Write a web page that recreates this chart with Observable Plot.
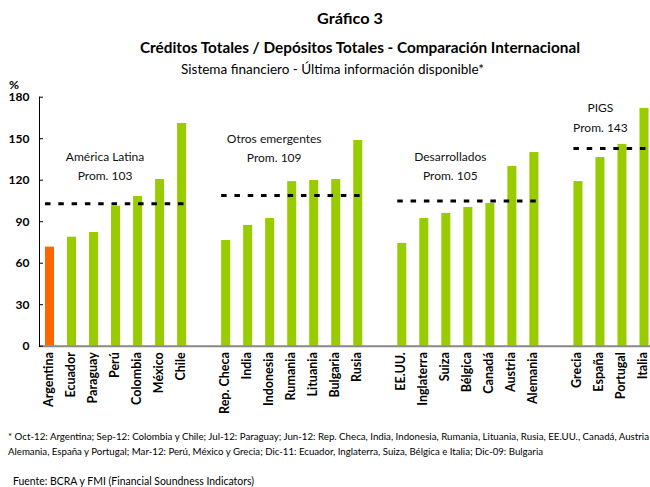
<!DOCTYPE html>
<html>
<head>
<meta charset="utf-8">
<script src="https://cdn.jsdelivr.net/npm/d3@7"></script>
<script src="https://cdn.jsdelivr.net/npm/@observablehq/plot@0.6"></script>
<style>
  html, body { margin: 0; padding: 0; background: white; }
  #chart { position: relative; width: 650px; height: 487px; overflow: hidden; font-family: Lato, "Open Sans", sans-serif; color: #000; }
  .t { position: absolute; white-space: nowrap; line-height: 1; transform-origin: 0 50%; z-index: 2; }
  #plot { position: absolute; left: 0; top: 80px; z-index: 1; }
</style>
</head>
<body>
<div id="chart">
  <div id="plot"></div>
  <div class="t" data-x="317" data-y="18" data-w="66" style="font-size:15px;font-weight:bold">Gráfico 3</div>
  <div class="t" data-x="140" data-y="47" data-w="440" style="font-size:15px;font-weight:bold">Créditos Totales / Depósitos Totales - Comparación Internacional</div>
  <div class="t" data-x="181" data-y="70" data-w="303" style="font-size:12.5px">Sistema financiero - Última información disponible*</div>
  <div class="t" data-x="9" data-y="84" data-w="10" style="font-size:11px;font-weight:bold">%</div>
  <div class="t" data-x="8" data-y="436" data-w="641" style="font-size:10px">* Oct-12: Argentina; Sep-12:  Colombia y Chile; Jul-12: Paraguay; Jun-12: Rep. Checa, India, Indonesia, Rumania, Lituania, Rusia, EE.UU., Canadá, Austria</div>
  <div class="t" data-x="8" data-y="451" data-w="535" style="font-size:10px">Alemania, España y Portugal; Mar-12: Perú, México y Grecia; Dic-11: Ecuador, Inglaterra, Suiza, Bélgica e Italia; Dic-09: Bulgaria</div>
  <div class="t" data-x="13" data-y="481" data-w="241" style="font-size:10.5px">Fuente: BCRA y FMI (Financial Soundness Indicators)</div>
</div>
<script>
// ---- data ----
const groups = ["América Latina", "Otros emergentes", "Desarrollados", "PIGS"];
const groupAverages = [103, 109, 105, 143];
const groupCategories = [
  ["Argentina", "Ecuador", "Paraguay", "Perú", "Colombia", "México", "Chile"],
  ["Rep. Checa", "India", "Indonesia", "Rumania", "Lituania", "Bulgaria", "Rusia"],
  ["EE.UU.", "Inglaterra", "Suiza", "Bélgica", "Canadá", "Austria", "Alemania"],
  ["Grecia", "España", "Portugal", "Italia"]
];
const groupValues = [
  [71.6, 78.8, 82.2, 101.2, 108.2, 120.5, 161.0],
  [76.4, 87.3, 92.3, 119.0, 119.8, 120.5, 148.7],
  [74.3, 92.3, 96.0, 100.3, 103.2, 130.0, 140.0],
  [119.0, 136.4, 145.9, 171.9]
];
const highlightCountry = "Argentina";
const yTicks = [0, 30, 60, 90, 120, 150, 180];

// annotation placement (label anchors)
const labelAnchor = ["Perú", "Indonesia", "Suiza", "España"];
const labelDx = [-11, 4, 4, 0];
const labelY = [[137, 122.7], [150, 135.7], [137, 122.7], [171.9, 157.5]];

// ---- build tables ----
const domain = [];
const rows = [];
groups.forEach((g, i) => {
  if (i) domain.push(" ".repeat(i));
  groupCategories[i].forEach((c, j) => {
    domain.push(c);
    rows.push({category: c, value: groupValues[i][j], color: c === highlightCountry ? "#ff6600" : "#99cc00"});
  });
});
const avgRows = groups.map((g, i) => ({
  group: g,
  first: groupCategories[i][0],
  last: groupCategories[i][groupCategories[i].length - 1],
  avg: groupAverages[i]
}));
const labelRows = [];
groups.forEach((g, i) => {
  labelRows.push({x: labelAnchor[i], y: labelY[i][0], text: g, dx: labelDx[i]});
  labelRows.push({x: labelAnchor[i], y: labelY[i][1], text: "Prom. " + groupAverages[i], dx: labelDx[i]});
});

const chart = Plot.plot({
  width: 650,
  height: 340,
  marginTop: 16.7,
  marginBottom: 74.3,
  marginLeft: 39,
  marginRight: 0,
  style: {fontFamily: "Lato, 'Open Sans', sans-serif", background: "white", color: "black"},
  x: {domain, range: [38.5, 655], round: false, paddingInner: 0.59, paddingOuter: 0.295, align: 0.5},
  y: {domain: [0, 180]},
  color: {type: "identity"},
  marks: [
    Plot.barY(rows, {x: "category", y: "value", fill: "color"}),
    Plot.ruleY(avgRows, {x1: "first", x2: "last", y: "avg", stroke: "black", strokeWidth: 3, strokeDasharray: "5.5,7.8"}),
    ...labelRows.map(d => Plot.text([d], {x: "x", y: "y", text: "text", dx: d.dx, fontSize: 12, fill: "#111"})),
    Plot.ruleY([0], {stroke: "#888", strokeWidth: 2}),
    Plot.frame({anchor: "left", stroke: "black", strokeWidth: 1}),
    Plot.axisY({ticks: yTicks, tickSize: -4, tickPadding: 14, fontSize: 12, fontWeight: "bold", label: null, stroke: "black"}),
    Plot.axisX({tickRotate: -90, tickSize: 0, tickPadding: 6, dx: -1, fontSize: 12.5, fontWeight: "bold", label: null, tickFormat: d => d.trim()})
  ]
});
document.getElementById("plot").appendChild(chart);

// position & fit html texts
document.querySelectorAll(".t").forEach(el => {
  const x = +el.dataset.x, y = +el.dataset.y, w = +el.dataset.w;
  const r = el.getBoundingClientRect();
  el.style.left = x + "px";
  el.style.top = (y - r.height / 2) + "px";
  el.style.transform = `scaleX(${w / r.width})`;
});
</script>
</body>
</html>
